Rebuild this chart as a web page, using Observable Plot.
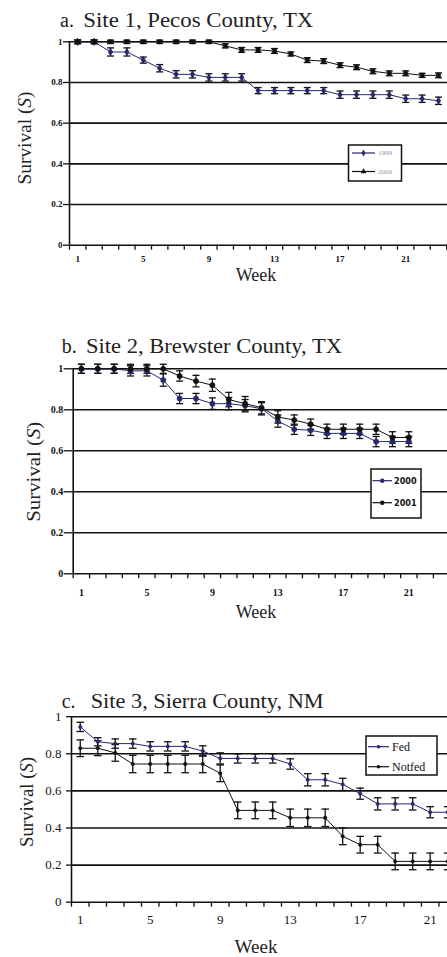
<!DOCTYPE html>
<html><head><meta charset="utf-8">
<script src="https://cdn.jsdelivr.net/npm/d3@7"></script>
<script src="https://cdn.jsdelivr.net/npm/@observablehq/plot@0.6"></script>
<style>
html,body{margin:0;padding:0;background:#fff;overflow:hidden}
#chart svg{display:block}
</style>
</head><body><div id="chart"></div>
<script>
// ---------- data ----------
const yTicks = [0, 0.2, 0.4, 0.6, 0.8, 1];
const yTickLabels = ["0", "0.2", "0.4", "0.6", "0.8", "1"];
const xTickWeeks = [1, 5, 9, 13, 17, 21];
const xTickLabels = ["1", "5", "9", "13", "17", "21"];

// Panel a: Site 1, Pecos County, TX
const weeksA = [1,2,3,4,5,6,7,8,9,10,11,12,13,14,15,16,17,18,19,20,21,22,23];
const a1999 = [1,1,0.95,0.95,0.91,0.87,0.84,0.84,0.825,0.825,0.825,0.76,0.76,0.76,0.76,0.76,0.74,0.74,0.74,0.74,0.72,0.72,0.71];
const a1999Err = [0.01,0.01,0.02,0.02,0.015,0.018,0.018,0.018,0.018,0.018,0.018,0.015,0.015,0.015,0.015,0.015,0.018,0.018,0.018,0.018,0.018,0.018,0.018];
const a2000 = [1,1,1,1,1,1,1,1,1,0.98,0.96,0.96,0.955,0.94,0.91,0.905,0.885,0.875,0.855,0.845,0.845,0.835,0.835];
const a2000Err = [0.008,0.008,0.008,0.008,0.008,0.008,0.008,0.008,0.008,0.01,0.012,0.012,0.012,0.01,0.012,0.012,0.012,0.012,0.012,0.012,0.012,0.01,0.012];

// Panel b: Site 2, Brewster County, TX
const weeksB = [1,2,3,4,5,6,7,8,9,10,11,12,13,14,15,16,17,18,19,20,21];
const b2000 = [1,1,1,0.99,0.99,0.945,0.855,0.855,0.83,0.83,0.82,0.805,0.745,0.705,0.70,0.685,0.685,0.685,0.645,0.645,0.645];
const b2000Err = [0.022,0.022,0.022,0.025,0.025,0.03,0.025,0.025,0.028,0.03,0.03,0.03,0.03,0.025,0.025,0.025,0.025,0.025,0.025,0.025,0.025];
const b2001 = [1,1,1,1,1,1,0.965,0.94,0.92,0.85,0.83,0.81,0.765,0.75,0.73,0.705,0.705,0.705,0.705,0.665,0.665];
const b2001Err = [0.022,0.022,0.022,0.022,0.022,0.022,0.025,0.028,0.03,0.035,0.035,0.03,0.03,0.025,0.025,0.025,0.025,0.025,0.025,0.028,0.028];

// Panel c: Site 3, Sierra County, NM
const weeksC = [1,2,3,4,5,6,7,8,9,10,11,12,13,14,15,16,17,18,19,20,21,22];
const cFed = [0.945,0.865,0.855,0.855,0.84,0.84,0.84,0.815,0.775,0.775,0.775,0.775,0.745,0.66,0.66,0.635,0.585,0.53,0.53,0.53,0.485,0.485];
const cFedErr = [0.025,0.022,0.025,0.025,0.025,0.025,0.025,0.028,0.03,0.025,0.025,0.025,0.028,0.033,0.033,0.033,0.03,0.033,0.033,0.033,0.03,0.03];
const cNotfed = [0.83,0.83,0.805,0.745,0.745,0.745,0.745,0.745,0.695,0.495,0.495,0.495,0.455,0.455,0.455,0.355,0.31,0.31,0.22,0.22,0.22,0.22];
const cNotfedErr = [0.045,0.04,0.045,0.047,0.047,0.047,0.047,0.047,0.045,0.045,0.045,0.045,0.047,0.047,0.047,0.045,0.045,0.045,0.045,0.045,0.045,0.045];

// ---------- drawing ----------
const NAVY = "#28286e";
const INK = "#111";

function capSymbol(half) {
  return {draw(ctx) { ctx.moveTo(-half, 0); ctx.lineTo(half, 0); }};
}

function buildPanel(p) {
  const rows = p.series.flatMap(s => s.values.map((v, i) => ({week: p.weeks[i], v, e: s.errors[i], name: s.name})));
  const names = p.series.map(s => s.name);
  const boundaries = d3.range(0.5, p.xMax, 1);
  const yLab = new Map(yTicks.map((t, i) => [t, yTickLabels[i]]));
  const xLab = new Map(xTickWeeks.map((t, i) => [t, xTickLabels[i]]));
  const cap = capSymbol(p.capHalf);
  const svg = Plot.plot({
    width: 447, height: p.height,
    marginTop: p.mt, marginBottom: p.mb, marginLeft: p.ml, marginRight: 0,
    style: {fontFamily: "Liberation Serif", background: "white", overflow: "visible", color: INK},
    x: {type: "linear", domain: [0.5, p.xMax]},
    y: {domain: [0, 1]},
    color: {domain: names, range: p.series.map(s => s.color)},
    symbol: {domain: names, range: p.series.map(s => s.symbol)},
    marks: [
      Plot.ruleY(yTicks, {stroke: INK, strokeWidth: 1.6}),
      Plot.ruleX([0.5], {y1: 0, y2: 1, stroke: INK, strokeWidth: 1.6}),
      Plot.axisY({ticks: yTicks, tickFormat: d => yLab.get(d), tickSize: p.yTickSize, tickPadding: p.yTickPad,
        fontSize: p.tickFont, fontWeight: p.tickWeight, label: null, strokeWidth: 1.3}),
      Plot.axisX({ticks: boundaries, tickFormat: () => "", tickSize: 5, label: null, strokeWidth: 1.3}),
      Plot.axisX({ticks: xTickWeeks, tickFormat: d => xLab.get(d), tickSize: 0, tickPadding: p.xTickPad,
        fontSize: p.tickFont, fontWeight: p.tickWeight, label: null}),
      Plot.line(rows, {x: "week", y: "v", z: "name", stroke: "name", strokeWidth: 1}),
      Plot.ruleX(rows, {x: "week", y1: d => d.v - d.e, y2: d => d.v + d.e, stroke: INK, strokeWidth: 1.3}),
      Plot.dot(rows, {x: "week", y: d => d.v + d.e, symbol: () => cap, stroke: INK, strokeWidth: 1.3, r: 3}),
      Plot.dot(rows, {x: "week", y: d => d.v - d.e, symbol: () => cap, stroke: INK, strokeWidth: 1.3, r: 3}),
      Plot.dot(rows, {x: "week", y: "v", symbol: "name", fill: "name", stroke: "name", strokeWidth: 0.6, r: p.markR})
    ]
  });
  const s = d3.select(svg);
  const serif = "Liberation Serif";
  // title
  s.append("text").attr("x", p.title.ax).attr("y", p.title.y).attr("text-anchor", "start").attr("font-family", serif)
    .attr("font-size", p.title.size).attr("fill", "#222").text(p.title.letter);
  s.append("text").attr("x", p.title.x).attr("y", p.title.y).attr("text-anchor", "start").attr("font-family", serif)
    .attr("font-size", p.title.size).attr("fill", "#222")
    .attr("textLength", p.title.len).attr("lengthAdjust", "spacingAndGlyphs").text(p.title.text);
  // x label
  s.append("text").attr("x", p.week.x).attr("y", p.week.y).attr("text-anchor", "middle")
    .attr("font-family", serif).attr("font-size", p.week.size).attr("fill", "#222").text("Week");
  // y label
  const yl = s.append("text").attr("transform", `translate(${p.ylab.x},${p.ylab.y}) rotate(-90)`)
    .attr("text-anchor", "middle").attr("dy", "0.35em").attr("font-family", serif)
    .attr("font-size", p.ylab.size).attr("fill", "#222")
    .attr("textLength", p.ylab.len).attr("lengthAdjust", "spacingAndGlyphs");
  yl.append("tspan").text("Survival (");
  yl.append("tspan").attr("font-style", "italic").text("S");
  yl.append("tspan").text(")");
  // legend
  const L = p.legend;
  const g = s.append("g");
  g.append("rect").attr("x", L.x).attr("y", L.y).attr("width", L.w).attr("height", L.h)
    .attr("fill", "white").attr("stroke", INK).attr("stroke-width", 1.5);
  p.series.forEach((se, i) => {
    const yy = L.rows[i];
    g.append("line").attr("x1", L.lx1).attr("x2", L.lx2).attr("y1", yy).attr("y2", yy)
      .attr("stroke", se.color).attr("stroke-width", 1.2);
    g.append("path").attr("transform", `translate(${(L.lx1 + L.lx2) / 2},${yy})`)
      .attr("d", d3.symbol(se.d3symbol, L.msize)()).attr("fill", se.color);
    g.append("text").attr("x", L.tx).attr("y", yy).attr("dy", "0.35em").attr("text-anchor", "start")
      .attr("font-family", L.font).attr("font-size", L.fsize).attr("font-weight", L.weight)
      .attr("fill", L.colors[i]).text(se.name);
  });
  return svg;
}

const panels = [
  {
    weeks: weeksA, height: 300, mt: 41.3, mb: 55.3, ml: 69, xMax: 23.55,
    capHalf: 3.5, markR: 2.3, tickFont: 9, tickWeight: "bold", yTickSize: 6, yTickPad: 1, xTickPad: 10,
    series: [
      {name: "1999", values: a1999, errors: a1999Err, color: NAVY, symbol: "diamond", d3symbol: d3.symbolDiamond},
      {name: "2000", values: a2000, errors: a2000Err, color: INK, symbol: "square", d3symbol: d3.symbolTriangle}
    ],
    title: {letter: "a.", ax: 60, x: 83.3, y: 27, size: 20, len: 230, text: "Site 1, Pecos County, TX"},
    week: {x: 256, y: 281, size: 18},
    ylab: {x: 25, y: 138, size: 18, len: 93},
    legend: {x: 348.5, y: 145, w: 53, h: 36, lx1: 352, lx2: 375, tx: 378, rows: [153, 171.5],
      msize: 14, font: "Liberation Serif", fsize: 7, weight: "normal", colors: ["#8a8ab0", "#9a9a9a"]}
  },
  {
    weeks: weeksB, height: 325, mt: 68.3, mb: 51.7, ml: 72.7, xMax: 23.36,
    capHalf: 3.5, markR: 2.6, tickFont: 10, tickWeight: "bold", yTickSize: 9, yTickPad: 1, xTickPad: 15,
    series: [
      {name: "2000", values: b2000, errors: b2000Err, color: NAVY, symbol: "circle", d3symbol: d3.symbolCircle},
      {name: "2001", values: b2001, errors: b2001Err, color: INK, symbol: "circle", d3symbol: d3.symbolCircle}
    ],
    title: {letter: "b.", ax: 61.7, x: 86, y: 53.3, size: 20, len: 256, text: "Site 2, Brewster County, TX"},
    week: {x: 256, y: 318, size: 18},
    ylab: {x: 34, y: 171.7, size: 18, len: 100},
    legend: {x: 371, y: 169, w: 50, h: 49, lx1: 372.5, lx2: 392, tx: 394, rows: [180.7, 202.7],
      msize: 16, font: "DejaVu Sans Condensed, DejaVu Sans", fsize: 9, weight: "bold", colors: [INK, INK]}
  },
  {
    weeks: weeksC, height: 332, mt: 91.2, mb: 55.3, ml: 71, xMax: 21.99,
    capHalf: 3.8, markR: 1.7, tickFont: 13, tickWeight: "normal", yTickSize: 5, yTickPad: 5, xTickPad: 13,
    series: [
      {name: "Fed", values: cFed, errors: cFedErr, color: NAVY, symbol: "circle", d3symbol: d3.symbolCircle},
      {name: "Notfed", values: cNotfed, errors: cNotfedErr, color: INK, symbol: "circle", d3symbol: d3.symbolCircle}
    ],
    title: {letter: "c.", ax: 61.7, x: 90.7, y: 83.3, size: 20, len: 233, text: "Site 3, Sierra County, NM"},
    week: {x: 256, y: 328, size: 19},
    ylab: {x: 27, y: 177, size: 18, len: 90},
    legend: {x: 366, y: 111, w: 71, h: 39, lx1: 368, lx2: 389, tx: 392, rows: [121.7, 141.7],
      msize: 10, font: "Liberation Serif", fsize: 12, weight: "normal", colors: [INK, INK]}
  }
];

const host = document.getElementById("chart");
panels.forEach(p => host.appendChild(buildPanel(p)));
</script>
</body></html>
